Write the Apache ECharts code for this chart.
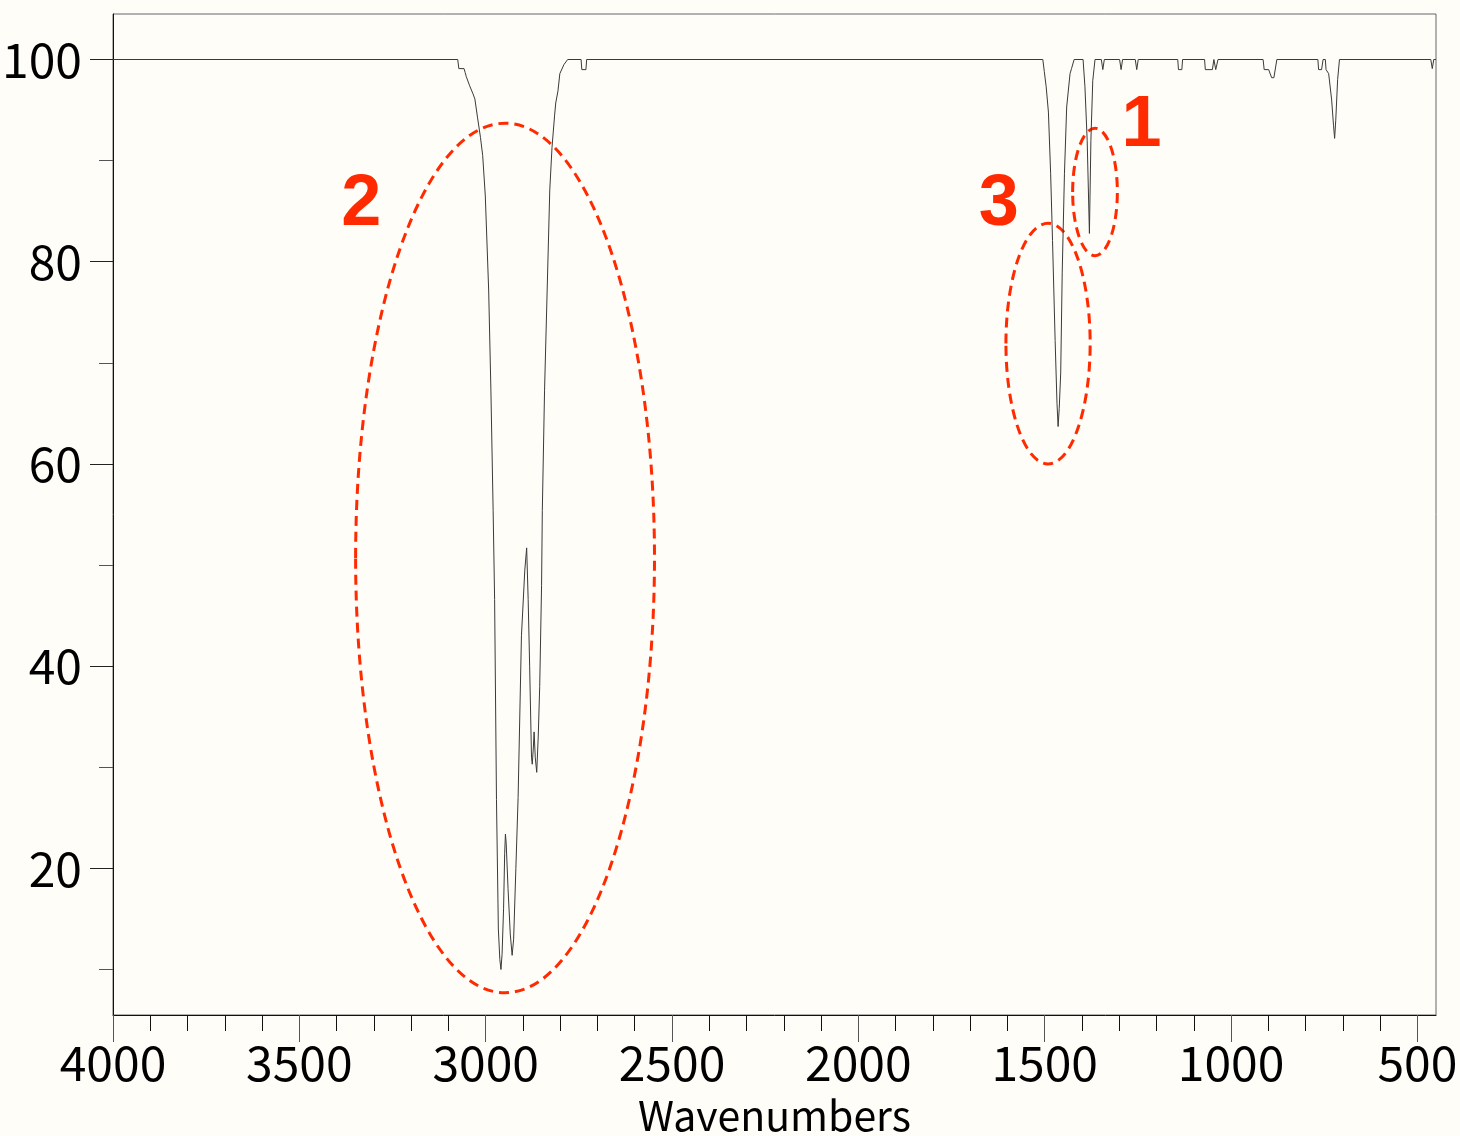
<!DOCTYPE html>
<html>
<head>
<meta charset="utf-8">
<script src="https://cdn.jsdelivr.net/npm/echarts@6/dist/echarts.min.js"></script>
<style>
  html, body { margin: 0; padding: 0; background: #fefdf8; }
  #chart { width: 1460px; height: 1136px; }
</style>
</head>
<body>
<div id="chart"></div>
<script>
// IR transmission spectrum (wavenumber in cm-1, transmittance in %)
const wavenumbers = [
  4000, 3075, 3072, 3058, 3055, 3052, 3043, 3034, 3029, 3022, 3014, 3008, 3001,
  2992, 2986, 2980, 2976, 2971, 2966, 2962, 2959, 2956, 2952, 2949, 2947, 2945,
  2940, 2934, 2929, 2925, 2919, 2913, 2904, 2895, 2890, 2886, 2882, 2877, 2875,
  2872, 2870, 2867, 2863, 2859, 2855, 2850, 2848, 2842, 2835, 2828, 2822, 2815,
  2812, 2806, 2801, 2790, 2780, 2744, 2742, 2731, 2729,
  1505, 1501, 1496, 1490, 1484, 1479, 1472, 1467, 1464, 1461, 1457, 1453, 1447,
  1441, 1432, 1428, 1424, 1421, 1397, 1392, 1386, 1380, 1376, 1371, 1365,
  1348, 1344, 1340, 1299, 1295, 1291, 1257, 1253, 1249,
  1143, 1141, 1132, 1130, 1071, 1069, 1050, 1046, 1041, 1035,
  914, 911, 899, 891, 885, 877,
  767, 765, 757, 753, 747, 745, 738, 730, 725, 722, 719, 714, 709,
  464, 460, 456, 450
];
const transmittance = [
  100, 100, 99.1, 99.1, 98.7, 98.3, 97.4, 96.6, 96.1, 94.3, 92.3, 90.5, 86.5,
  77.2, 67.3, 55.4, 46.6, 26.8, 14.0, 11.0, 10.0, 11.5, 16.0, 21.5, 23.4, 22.5,
  18.0, 13.5, 11.4, 13.0, 20.0, 27.0, 43.0, 49.5, 51.7, 46.6, 40.0, 31.0, 30.3,
  32.0, 33.5, 31.0, 29.5, 33.0, 38.0, 48.0, 55.4, 67.3, 77.2, 87.1, 91.3, 94.5,
  95.7, 96.9, 98.6, 99.5, 100, 100, 99.0, 99.0, 100,
  100, 98.8, 97.3, 94.8, 88.7, 82.1, 72.2, 66.0, 63.7, 65.5, 69.0, 78.9, 88.7,
  95.3, 98.6, 99.1, 99.1, 100, 100, 97.3, 92.0, 82.8, 92.0, 97.9, 100,
  100, 99.0, 100, 100, 99.0, 100, 100, 99.0, 100,
  100, 99.0, 99.0, 100, 100, 99.0, 99.0, 100, 99.0, 100,
  100, 99.0, 99.0, 98.2, 98.2, 100,
  100, 99.0, 99.0, 100, 100, 99.0, 98.6, 96.0, 93.5, 92.2, 94.0, 98.0, 100,
  100, 99.1, 100, 100
];

// Axis ticks and labels
const xMajorTicks = [4000, 3500, 3000, 2500, 2000, 1500, 1000, 500];
const xMinorTicks = [
  3900, 3800, 3700, 3600, 3400, 3300, 3200, 3100, 2900, 2800, 2700, 2600,
  2400, 2300, 2200, 2100, 1900, 1800, 1700, 1600, 1400, 1300, 1200, 1100,
  900, 800, 700, 600
];
const yMajorTicks = [20, 40, 60, 80, 100];
const yMinorTicks = [10, 30, 50, 70, 90];

// Highlighted absorption regions: [centre wavenumber, centre %T, half-width, half-height]
const regionEllipses = [
  [1365, 86.9, 60, 6.3],
  [2948, 50.7, 401, 43.0],
  [1491, 71.9, 113, 11.9]
];
// Region numbers: [wavenumber, %T, text]
const regionLabels = [
  [1240, 93.4, '1'],
  [3334, 85.6, '2'],
  [1623, 85.6, '3']
];

const tickFont = '"Noto Sans CJK JP", "Noto Sans", sans-serif';
const accent = '#ff2a00';
const plain = v => String(v);

const chart = echarts.init(document.getElementById('chart'), null, { renderer: 'canvas' });

const xCommon = { type: 'value', min: 450, max: 4000, inverse: true, position: 'bottom', splitLine: { show: false } };
const yCommon = { type: 'value', min: 5.5, max: 104.5, position: 'left', splitLine: { show: false } };

chart.setOption({
  backgroundColor: '#fefdf8',
  animation: false,
  grid: {
    left: 113, top: 14, width: 1323, height: 1001,
    containLabel: false, outerBoundsMode: 'none',
    show: true, borderColor: '#666', borderWidth: 1, backgroundColor: 'transparent'
  },
  xAxis: [
    Object.assign({}, xCommon, {
      axisLine: { show: true, lineStyle: { color: '#111', width: 1 } },
      axisTick: { show: true, customValues: xMajorTicks, length: 27, lineStyle: { color: '#555', width: 1 } },
      axisLabel: { customValues: xMajorTicks, formatter: plain, fontFamily: tickFont, fontSize: 48, color: '#000', margin: 24 },
      name: 'Wavenumbers', nameLocation: 'middle', nameGap: 80,
      nameTextStyle: { fontFamily: tickFont, fontSize: 41, color: '#000' }
    }),
    Object.assign({}, xCommon, {
      axisLine: { show: false },
      axisTick: { show: true, customValues: xMinorTicks, length: 16, lineStyle: { color: '#111', width: 1 } },
      axisLabel: { show: false }
    })
  ],
  yAxis: [
    Object.assign({}, yCommon, {
      axisLine: { show: true, lineStyle: { color: '#111', width: 1 } },
      axisTick: { show: true, customValues: yMajorTicks, length: 23, lineStyle: { color: '#222', width: 1 } },
      axisLabel: { customValues: yMajorTicks, formatter: plain, fontFamily: tickFont, fontSize: 48, color: '#000', margin: 31, padding: [12, 0, 0, 0] }
    }),
    Object.assign({}, yCommon, {
      axisLine: { show: false },
      axisTick: { show: true, customValues: yMinorTicks, length: 14, lineStyle: { color: '#555', width: 1 } },
      axisLabel: { show: false }
    })
  ],
  series: [
    {
      type: 'line',
      xAxisIndex: 0, yAxisIndex: 0,
      data: wavenumbers.map((w, i) => [w, transmittance[i]]),
      showSymbol: false,
      lineStyle: { color: '#3a3a3a', width: 1 },
      silent: true
    },
    {
      type: 'custom',
      xAxisIndex: 0, yAxisIndex: 0,
      data: regionEllipses,
      silent: true,
      renderItem: function (params, api) {
        const c = api.coord([api.value(0), api.value(1)]);
        const s = api.size([api.value(2), api.value(3)]);
        return {
          type: 'ellipse',
          shape: { cx: c[0], cy: c[1], rx: s[0], ry: s[1] },
          style: { fill: 'none', stroke: accent, lineWidth: 3, lineDash: [10, 6] }
        };
      }
    },
    {
      type: 'custom',
      xAxisIndex: 0, yAxisIndex: 0,
      data: regionLabels,
      silent: true,
      renderItem: function (params, api) {
        const c = api.coord([api.value(0), api.value(1)]);
        return {
          type: 'text',
          style: {
            text: regionLabels[params.dataIndex][2],
            x: c[0], y: c[1],
            align: 'center', verticalAlign: 'middle',
            font: 'bold 72px "Liberation Sans", Arial, sans-serif',
            fill: accent
          }
        };
      }
    }
  ]
});
</script>
</body>
</html>
